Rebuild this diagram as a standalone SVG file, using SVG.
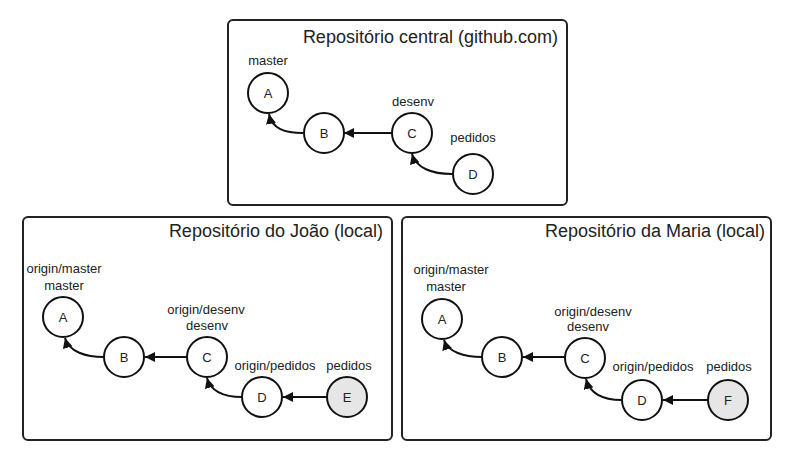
<svg xmlns="http://www.w3.org/2000/svg" width="798" height="460" viewBox="0 0 798 460">
<defs>
<marker id="arr" markerUnits="userSpaceOnUse" markerWidth="12" markerHeight="10" refX="10" refY="5" orient="auto">
<path d="M0,0 L10,5 L0,10 Z" fill="#111"/>
</marker>
<style>
.box{fill:#fff;stroke:#222;stroke-width:2}
.title{font-family:"Liberation Sans",Arial,sans-serif;font-size:18px;fill:#222;text-anchor:end}
.n{fill:#fff;stroke:#111;stroke-width:2}
.g{fill:#e6e6e6;stroke:#111;stroke-width:2}
.lt{font-family:"Liberation Sans",Arial,sans-serif;font-size:13px;fill:#222;text-anchor:middle}
.lb{font-family:"Liberation Sans",Arial,sans-serif;font-size:13px;fill:#222;text-anchor:middle}
.e{fill:none;stroke:#111;stroke-width:2;marker-end:url(#arr)}
</style>
</defs>
<rect width="798" height="460" fill="#fff"/>

<g id="central">
<rect class="box" x="228" y="20" width="339" height="185" rx="5"/>
<text class="title" x="558" y="43">Repositório central (github.com)</text>
</g>
<g id="joao">
<rect class="box" x="23" y="217" width="369" height="223" rx="5"/>
<text class="title" x="383" y="237">Repositório do João (local)</text>
</g>
<g id="maria">
<rect class="box" x="402" y="217" width="369" height="223" rx="5"/>
<text class="title" x="765" y="237">Repositório da Maria (local)</text>
</g>

<g id="connectors">
<path class="e" d="M303 133 C285 133 272 129 269 114"/>
<path class="e" d="M392 133 L344 133"/>
<path class="e" d="M452 174 C432 174 416 168 412 154"/>

<path class="e" d="M104 357 C86 357 69 352 65 338"/>
<path class="e" d="M187 357 L145 357"/>
<path class="e" d="M242 397 C224 397 211 392 207 378"/>
<path class="e" d="M327 397 L283 397"/>

<path class="e" d="M482 357 C464 357 448 352 444 340"/>
<path class="e" d="M565 357 L523 357"/>
<path class="e" d="M622 400 C604 400 590 394 586 379"/>
<path class="e" d="M708 400 L663 400"/>
</g>

<g id="c-A"><circle class="n" cx="268" cy="93" r="20"/><text class="lb" x="268" y="98">A</text><text class="lt" x="268" y="65">master</text></g>
<g id="c-B"><circle class="n" cx="324" cy="133" r="20"/><text class="lb" x="324" y="138">B</text></g>
<g id="c-C"><circle class="n" cx="412" cy="133" r="20"/><text class="lb" x="412" y="138">C</text><text class="lt" x="413" y="106">desenv</text></g>
<g id="c-D"><circle class="n" cx="473" cy="174" r="20"/><text class="lb" x="473" y="179">D</text><text class="lt" x="473" y="142">pedidos</text></g>

<g id="j-A"><circle class="n" cx="63" cy="317" r="20"/><text class="lb" x="63" y="322">A</text><text class="lt" x="64" y="273">origin/master</text><text class="lt" x="64" y="290">master</text></g>
<g id="j-B"><circle class="n" cx="124" cy="357" r="20"/><text class="lb" x="124" y="362">B</text></g>
<g id="j-C"><circle class="n" cx="207" cy="357" r="20"/><text class="lb" x="207" y="362">C</text><text class="lt" x="206" y="314">origin/desenv</text><text class="lt" x="207" y="330">desenv</text></g>
<g id="j-D"><circle class="n" cx="262" cy="397" r="20"/><text class="lb" x="262" y="402">D</text><text class="lt" x="275" y="370">origin/pedidos</text></g>
<g id="j-E"><circle class="g" cx="347" cy="397" r="20"/><text class="lb" x="347" y="402">E</text><text class="lt" x="349" y="370">pedidos</text></g>

<g id="m-A"><circle class="n" cx="442" cy="319" r="20"/><text class="lb" x="442" y="324">A</text><text class="lt" x="451" y="274">origin/master</text><text class="lt" x="446" y="291">master</text></g>
<g id="m-B"><circle class="n" cx="502" cy="357" r="20"/><text class="lb" x="502" y="362">B</text></g>
<g id="m-C"><circle class="n" cx="585" cy="358" r="20"/><text class="lb" x="585" y="363">C</text><text class="lt" x="593" y="316">origin/desenv</text><text class="lt" x="588" y="331">desenv</text></g>
<g id="m-D"><circle class="n" cx="642" cy="400" r="20"/><text class="lb" x="642" y="405">D</text><text class="lt" x="653" y="371">origin/pedidos</text></g>
<g id="m-F"><circle class="g" cx="728" cy="400" r="20"/><text class="lb" x="728" y="405">F</text><text class="lt" x="729" y="371">pedidos</text></g>
</svg>
